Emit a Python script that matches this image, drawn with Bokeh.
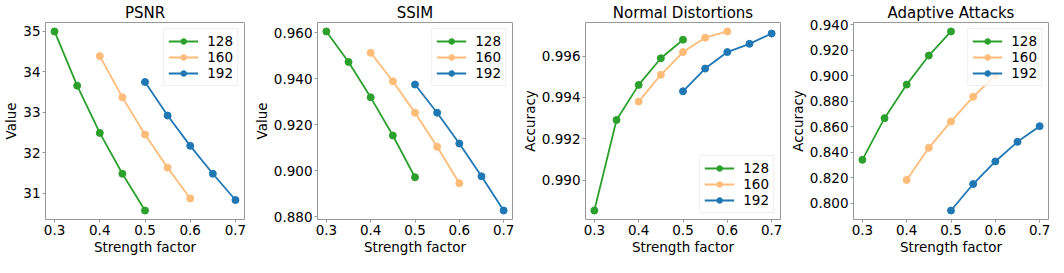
from bokeh.plotting import figure
from bokeh.layouts import row
from bokeh.models import Range1d, FixedTicker, NumeralTickFormatter
from bokeh.embed import file_html
from bokeh.resources import INLINE

# ---- data ----
x128 = [0.30, 0.35, 0.40, 0.45, 0.50]
x160 = [0.40, 0.45, 0.50, 0.55, 0.60]
x192 = [0.50, 0.55, 0.60, 0.65, 0.70]

psnr_128 = [35.00, 33.66, 32.49, 31.48, 30.57]
psnr_160 = [34.39, 33.37, 32.45, 31.63, 30.87]
psnr_192 = [33.75, 32.92, 32.17, 31.48, 30.83]

ssim_128 = [0.9606, 0.9473, 0.9319, 0.9153, 0.8971]
ssim_160 = [0.9513, 0.9389, 0.9252, 0.9104, 0.8945]
ssim_192 = [0.9375, 0.9252, 0.9118, 0.8975, 0.8826]

norm_128 = [0.98852, 0.99291, 0.99461, 0.99590, 0.99680]
norm_160 = [0.99380, 0.99510, 0.99620, 0.99690, 0.99720]
norm_192 = [0.99430, 0.99540, 0.99620, 0.99660, 0.99710]

adap_128 = [0.8342, 0.8669, 0.8932, 0.9160, 0.9349]
adap_160 = [0.8184, 0.8436, 0.8643, 0.8836, 0.9004]
adap_192 = [0.7944, 0.8152, 0.8329, 0.8483, 0.8606]

labels = ["128", "160", "192"]
colors = ["#2ca02c", "#ffbb78", "#1f77b4"]
x_ticks = [0.3, 0.4, 0.5, 0.6, 0.7]

panels = [
    dict(title="PSNR", ylabel="Value", ys=[psnr_128, psnr_160, psnr_192],
         yticks=[31, 32, 33, 34, 35], fmt="0", legend="top_right"),
    dict(title="SSIM", ylabel="Value", ys=[ssim_128, ssim_160, ssim_192],
         yticks=[0.88, 0.90, 0.92, 0.94, 0.96], fmt="0.000", legend="top_right"),
    dict(title="Normal Distortions", ylabel="Accuracy", ys=[norm_128, norm_160, norm_192],
         yticks=[0.990, 0.992, 0.994, 0.996], fmt="0.000", legend="bottom_right"),
    dict(title="Adaptive Attacks", ylabel="Accuracy", ys=[adap_128, adap_160, adap_192],
         yticks=[0.80, 0.82, 0.84, 0.86, 0.88, 0.90, 0.92, 0.94], fmt="0.000", legend="top_right"),
]

FONT = "DejaVu Sans"
GRAY = "#999999"
lefts = [40, 58, 58, 58]
RIGHT = 6
FRAME_W = 204
H = 257

figs = []
for i, pd_ in enumerate(panels):
    allx = x128 + x160 + x192
    ally = [v for s in pd_["ys"] for v in s]
    xpad = (max(allx) - min(allx)) * 0.05
    ypad = (max(ally) - min(ally)) * 0.05
    p = figure(width=lefts[i] + FRAME_W + RIGHT, height=H,
               output_backend="svg", toolbar_location=None,
               x_range=Range1d(min(allx) - xpad, max(allx) + xpad),
               y_range=Range1d(min(ally) - ypad, max(ally) + ypad),
               min_border_left=lefts[i], min_border_right=RIGHT,
               min_border_top=4, min_border_bottom=2)
    p.title.text = pd_["title"]
    p.title.align = "center"
    p.title.text_font = FONT
    p.title.text_font_size = "15px"
    p.title.text_font_style = "normal"
    p.title.text_color = "black"
    p.title.standoff = 2
    p.grid.visible = False
    p.outline_line_color = GRAY
    p.outline_line_width = 1
    for ax in (p.xaxis[0], p.yaxis[0]):
        ax.axis_line_color = None
        ax.major_tick_line_color = GRAY
        ax.major_tick_out = 3
        ax.major_tick_in = 0
        ax.minor_tick_line_color = None
        ax.major_label_text_font = FONT
        ax.major_label_text_font_size = "13.5px"
        ax.major_label_text_color = "black"
        ax.major_label_standoff = 2
        ax.axis_label_text_font = FONT
        ax.axis_label_text_font_size = "13.5px"
        ax.axis_label_text_font_style = "normal"
        ax.axis_label_text_color = "black"
        ax.axis_label_standoff = 1
    p.xaxis.ticker = FixedTicker(ticks=x_ticks)
    p.xaxis.formatter = NumeralTickFormatter(format="0.0")
    p.yaxis.ticker = FixedTicker(ticks=pd_["yticks"])
    p.yaxis.formatter = NumeralTickFormatter(format=pd_["fmt"])
    p.xaxis.axis_label = "Strength factor"
    p.yaxis.axis_label = pd_["ylabel"]

    for xs, ys, lab, col in zip([x128, x160, x192], pd_["ys"], labels, colors):
        p.line(xs, ys, line_color=col, line_width=1.8, legend_label=lab)
        p.scatter(xs, ys, marker="circle", size=7, fill_color=col, line_color=col,
                  legend_label=lab)

    lg = p.legend[0]
    lg.location = pd_["legend"]
    lg.border_line_color = "#dddddd"
    lg.border_line_width = 1
    lg.background_fill_alpha = 0.8
    lg.label_text_font = FONT
    lg.label_text_font_size = "13.5px"
    lg.label_text_color = "black"
    lg.label_height = 14
    lg.glyph_height = 14
    lg.glyph_width = 30
    lg.spacing = 0
    lg.padding = 4
    lg.margin = 6
    lg.label_standoff = 9
    figs.append(p)

layout = row(*figs, spacing=0)
open("out.html", "w").write(file_html(layout, INLINE))
